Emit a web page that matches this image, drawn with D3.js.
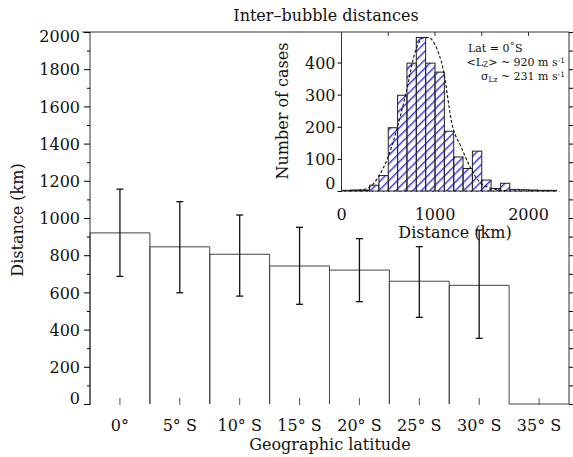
<!DOCTYPE html>
<html>
<head>
<meta charset="utf-8">
<script src="https://cdn.jsdelivr.net/npm/d3@7"></script>
<style>
  body { margin: 0; background: #fff; }
  text { font-family: "DejaVu Serif", serif; fill: #111; }
</style>
</head>
<body>
<script>
// main chart: mean inter-bubble distance per latitude band
const categories = ["0°", "5° S", "10° S", "15° S", "20° S", "25° S", "30° S", "35° S"];
const meanDist = [920, 845, 805, 742, 720, 660, 638, 0];
const errLow = [686, 598, 580, 536, 550, 466, 353, null];
const errHigh = [1155, 1088, 1016, 950, 889, 846, 935, null];
const yMajor = [0, 200, 400, 600, 800, 1000, 1200, 1400, 1600, 1800, 2000];
const yMinor = [100, 300, 500, 700, 900, 1100, 1300, 1500, 1700, 1900];

// inset: histogram of distances at the equator
const binStart = [0, 100, 200, 300, 400, 500, 600, 700, 800, 900, 1000, 1100,
                  1200, 1300, 1400, 1500, 1600, 1700, 1800, 1900, 2000, 2100, 2200];
const binCount = [2, 3, 3, 18, 48, 197, 298, 398, 478, 398, 370, 186,
                  106, 70, 124, 34, 8, 24, 5, 4, 3, 2, 2];
const binWidth = 100;
// dashed gaussian fit (km, cases)
const fitKm = [75, 200, 300, 395, 490, 590, 690, 790, 870, 930, 1000, 1085, 1185, 1280, 1375, 1470, 1565, 1670, 1770];
const fitCases = [1, 3, 12, 44, 100, 190, 305, 435, 476, 478, 455, 382, 205, 137, 75, 30, 12, 4, 1];
const insetXTicks = [0, 1000, 2000];
const insetYTicks = [0, 100, 200, 300, 400];

const width = 573, height = 457;
const svg = d3.select("body").append("svg")
  .attr("width", width)
  .attr("height", height);

const defs = svg.append("defs");
defs.append("pattern")
  .attr("id", "hatch")
  .attr("width", 6).attr("height", 6)
  .attr("patternUnits", "userSpaceOnUse")
  .attr("patternTransform", "rotate(45)")
  .append("line")
  .attr("x1", 0.7).attr("y1", 0).attr("x2", 0.7).attr("y2", 6)
  .attr("stroke", "#2f2fe0").attr("stroke-width", 1.4);

// ---- main plot ----
const x = d3.scaleBand().domain(categories).range([90, 569]);
const y = d3.scaleLinear().domain([0, 2000]).range([404, 32]);

// bars as outlines (so a zero bar still shows its top line)
svg.append("g").selectAll("path")
  .data(meanDist)
  .join("path")
  .attr("d", (d, i) => {
    const x0 = x(categories[i]), x1 = x0 + x.bandwidth();
    return `M${x0},${y(0)}V${y(d)}H${x1}V${y(0)}`;
  })
  .attr("fill", "none")
  .attr("stroke", "#444")
  .attr("stroke-width", 1);

// frame
svg.append("line").attr("x1", 82).attr("x2", 569).attr("y1", 32).attr("y2", 32).attr("stroke", "#333");
svg.append("line").attr("x1", 90).attr("x2", 90).attr("y1", 32).attr("y2", 405).attr("stroke", "#333");
svg.append("line").attr("x1", 569).attr("x2", 569).attr("y1", 32).attr("y2", 404).attr("stroke", "#333");

// left axis
const yAx = svg.append("g").attr("transform", "translate(90,0)")
  .call(d3.axisLeft(y).tickValues(yMajor).tickSize(6).tickPadding(4).tickFormat(d3.format("d")));
yAx.select(".domain").remove();
yAx.selectAll("text").style("font-size", "16px").attr("fill", "#111")
  .attr("dy", d => d === 0 ? "-0.05em" : d === 2000 ? "0.6em" : "0.35em");
const yMin = svg.append("g").attr("transform", "translate(90,0)")
  .call(d3.axisLeft(y).tickValues(yMinor).tickSize(3).tickFormat(""));
yMin.select(".domain").remove();

// right mirror ticks
const yRt = svg.append("g").attr("transform", "translate(569,0)")
  .call(d3.axisRight(y).tickValues(yMajor.concat(yMinor)).tickSize(4).tickFormat(""));
yRt.select(".domain").remove();

// bottom ticks + category labels
svg.append("g").selectAll("line")
  .data(categories)
  .join("line")
  .attr("x1", d => x(d) + x.bandwidth() / 2)
  .attr("x2", d => x(d) + x.bandwidth() / 2)
  .attr("y1", 398).attr("y2", 405)
  .attr("stroke", "#555");
svg.append("g").selectAll("text")
  .data(categories)
  .join("text")
  .attr("x", d => x(d) + x.bandwidth() / 2)
  .attr("y", 431)
  .attr("text-anchor", "middle")
  .style("font-size", "16px")
  .text(d => d);

// error bars
const eb = svg.append("g").attr("stroke", "#111").attr("stroke-width", 1.3);
categories.forEach((c, i) => {
  if (errLow[i] == null) return;
  const cx = x(c) + x.bandwidth() / 2;
  eb.append("line").attr("x1", cx).attr("x2", cx).attr("y1", y(errLow[i])).attr("y2", y(errHigh[i]));
  eb.append("line").attr("x1", cx - 3.5).attr("x2", cx + 3.5).attr("y1", y(errLow[i])).attr("y2", y(errLow[i]));
  eb.append("line").attr("x1", cx - 3.5).attr("x2", cx + 3.5).attr("y1", y(errHigh[i])).attr("y2", y(errHigh[i]));
});

// main labels
svg.append("text").attr("x", 326).attr("y", 21).attr("text-anchor", "middle")
  .style("font-size", "16px").text("Inter\u2013bubble distances");
svg.append("text").attr("x", 330).attr("y", 450).attr("text-anchor", "middle")
  .style("font-size", "16px").text("Geographic latitude");
svg.append("text").attr("transform", "translate(23,220) rotate(-90)").attr("text-anchor", "middle")
  .style("font-size", "16px").text("Distance (km)");

// ---- inset histogram ----
const ix = d3.scaleLinear().domain([0, 1000]).range([341.5, 435]);
const iy = d3.scaleLinear().domain([0, 400]).range([191, 62.5]);

const inset = svg.append("g");
inset.selectAll("rect.hist")
  .data(binCount)
  .join("rect")
  .attr("class", "hist")
  .attr("x", (d, i) => ix(binStart[i]))
  .attr("y", d => iy(d))
  .attr("width", ix(binWidth) - ix(0))
  .attr("height", d => iy(0) - iy(d))
  .attr("fill", "url(#hatch)")
  .attr("stroke", "#222")
  .attr("stroke-width", 1);

inset.append("path")
  .datum(fitKm.map((k, i) => [k, fitCases[i]]))
  .attr("d", d3.line().x(d => ix(d[0])).y(d => iy(d[1])).curve(d3.curveMonotoneX))
  .attr("fill", "none")
  .attr("stroke", "#111")
  .attr("stroke-width", 1.1)
  .attr("stroke-dasharray", "3,2");

// inset baseline (dotted) and left axis
inset.append("line").attr("x1", ix(30)).attr("x2", ix(2330)).attr("y1", 191.5).attr("y2", 191.5)
  .attr("stroke", "#333").attr("stroke-dasharray", "1.5,4");
inset.append("line").attr("x1", 341.5).attr("x2", 341.5).attr("y1", 32).attr("y2", 192).attr("stroke", "#333");

const iyAx = inset.append("g").attr("transform", "translate(341.5,0)")
  .call(d3.axisLeft(iy).tickValues(insetYTicks).tickSize(4).tickPadding(2).tickFormat(d3.format("d")));
iyAx.select(".domain").remove();
iyAx.selectAll("text").style("font-size", "16px").attr("fill", "#111")
  .attr("dy", d => d === 0 ? "-0.15em" : "0.35em");

// top ticks of inset
inset.append("g").selectAll("line")
  .data([500, 1000, 1500, 2000])
  .join("line")
  .attr("x1", d => ix(d)).attr("x2", d => ix(d))
  .attr("y1", 32).attr("y2", 36)
  .attr("stroke", "#333");

inset.append("g").selectAll("text")
  .data(insetXTicks)
  .join("text")
  .attr("x", d => ix(d))
  .attr("y", 220)
  .attr("text-anchor", "middle")
  .style("font-size", "16px")
  .text(d => d);

inset.append("text").attr("x", 455).attr("y", 238).attr("text-anchor", "middle")
  .style("font-size", "16px").text("Distance (km)");
inset.append("text").attr("transform", "translate(288,111) rotate(-90)").attr("text-anchor", "middle")
  .style("font-size", "16px").text("Number of cases");

// annotation (tightly stacked, as in the original)
const ann = inset.append("g").style("font-size", "11px");
ann.append("text").attr("x", 468).attr("y", 52).text("Lat = 0\u02DAS");
const l2 = ann.append("text").attr("x", 565).attr("y", 66).attr("text-anchor", "end");
l2.append("tspan").text("<L");
l2.append("tspan").attr("dy", 1).style("font-size", "7.5px").text("Z");
l2.append("tspan").attr("dy", -1).text("> ~ 920 m s");
l2.append("tspan").attr("dy", -3).style("font-size", "7.5px").text("-1");
const l3 = ann.append("text").attr("x", 565).attr("y", 80).attr("text-anchor", "end");
l3.append("tspan").text("\u03C3");
l3.append("tspan").attr("dy", 1.5).style("font-size", "7.5px").text("Lz");
l3.append("tspan").attr("dy", -1.5).text(" ~ 231 m s");
l3.append("tspan").attr("dy", -3).style("font-size", "7.5px").text("-1");
</script>
</body>
</html>
